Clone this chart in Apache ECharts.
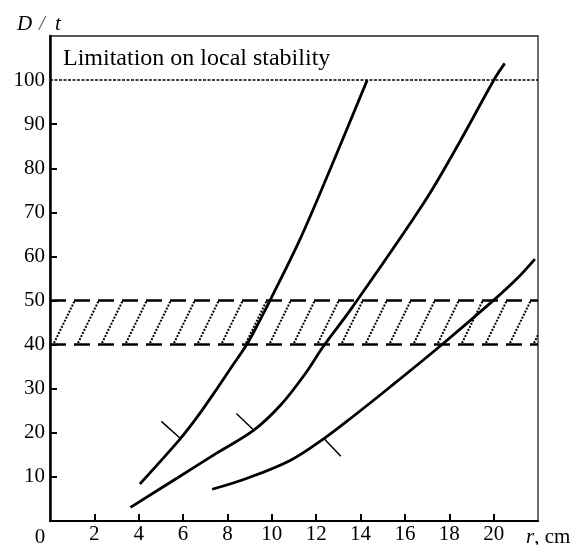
<!DOCTYPE html>
<html>
<head>
<meta charset="utf-8">
<script src="https://cdn.jsdelivr.net/npm/echarts@6/dist/echarts.min.js"></script>
<style>
  html, body { margin: 0; padding: 0; background: #fff; }
  #chart { width: 579px; height: 545px; }
</style>
</head>
<body>
<div id="chart"></div>
<script>
// Allowed wall ratio D/t versus radius r (cm)
const curveA = [[4.05, 8.4], [5.88, 18.7], [6.64, 23.6], [7.39, 29.0], [8.14, 34.6], [8.89, 40.2], [9.49, 45.8], [9.95, 50.3], [11.3, 64.2], [12.65, 80], [14.3, 100]];
const curveB = [[3.63, 3.1], [5.88, 10.2], [7.39, 15.0], [9.19, 20.6], [10.4, 26.3], [11.45, 33.0], [12.35, 39.8], [13.56, 48.0], [16.87, 72.3], [18.45, 85.8], [20.03, 100.2], [20.5, 103.8]];
const curveC = [[7.31, 7.2], [8.89, 9.7], [10.85, 13.8], [12.35, 18.7], [13.56, 23.3], [15.36, 30.5], [17.62, 39.8], [20.03, 50.2], [21.08, 55.1], [21.86, 59.4]];

// Short marker strokes attached to each curve
const markA = [[5.88, 18.7], [5.02, 22.6]];
const markB = [[9.19, 20.6], [8.40, 24.4]];
const markC = [[12.35, 18.7], [13.11, 14.7]];

// Limits
const stabilityLimit = 100;
const bandLow = 40;
const bandHigh = 50;

// Axis ticks and labels
const xTicks = [2, 4, 6, 8, 10, 12, 14, 16, 18, 20];
const yTicks = [10, 20, 30, 40, 50, 60, 70, 80, 90];
const yLabels = [10, 20, 30, 40, 50, 60, 70, 80, 90, 100];

const titleText = 'Limitation on local stability';

const SERIF = '"Liberation Serif", "Times New Roman", serif';

// Dotted diagonal hatch tile for the 40–50 band
function hatchTile() {
  const w = 24, h = 49;
  const c = document.createElement('canvas');
  c.width = w; c.height = h;
  const ctx = c.getContext('2d');
  ctx.strokeStyle = '#000';
  ctx.lineWidth = 2;
  ctx.setLineDash([2, 1.4]);
  for (let k = -1; k <= 1; k++) {
    const x0 = k * w + 6;
    ctx.beginPath();
    ctx.moveTo(x0, h);
    ctx.lineTo(x0 + w, 0);
    ctx.stroke();
  }
  return c;
}

const chart = echarts.init(document.getElementById('chart'), null, { renderer: 'canvas' });

function curve(data) {
  return {
    type: 'line', data: data, smooth: 0.35, symbol: 'none', z: 4,
    lineStyle: { color: '#000', width: 2.8 }, silent: true
  };
}
function marker(data) {
  return {
    type: 'line', data: data, symbol: 'none', z: 4,
    lineStyle: { color: '#000', width: 1.5 }, silent: true
  };
}

chart.setOption({
  animation: false,
  backgroundColor: '#fff',
  grid: {
    left: 50, right: 41, top: 36, bottom: 22,
    show: true, borderColor: '#222', borderWidth: 1.3, backgroundColor: 'transparent'
  },
  xAxis: {
    type: 'value', min: 0, max: 22, interval: 2,
    axisLine: { show: true, onZero: false, lineStyle: { color: '#000', width: 2.2 } },
    axisTick: { show: true, inside: true, length: 7, customValues: xTicks, lineStyle: { color: '#000', width: 2 } },
    axisLabel: {
      show: true, customValues: xTicks, margin: 3,
      color: '#000', fontFamily: SERIF, fontSize: 21
    },
    splitLine: { show: false }
  },
  yAxis: {
    type: 'value', min: 0, max: 110, interval: 10,
    axisLine: { show: true, onZero: false, lineStyle: { color: '#000', width: 2.5 } },
    axisTick: { show: true, inside: true, length: 7, customValues: yTicks, lineStyle: { color: '#000', width: 2 } },
    axisLabel: {
      show: true, customValues: yLabels, margin: 5,
      color: '#000', fontFamily: SERIF, fontSize: 21
    },
    splitLine: { show: false }
  },
  graphic: [
    { type: 'text', left: 63, top: 47, z: 10,
      style: { text: titleText, fill: '#000', font: '24px ' + SERIF } },
    { type: 'text', x: 40, y: 537, z: 10,
      style: { text: '0', fill: '#000', font: '21px ' + SERIF, align: 'center', verticalAlign: 'middle' } },
    { type: 'text', x: 17, y: 24, z: 10,
      style: { text: 'D', fill: '#000', font: 'italic 21px ' + SERIF, verticalAlign: 'middle' } },
    { type: 'text', x: 39, y: 24, z: 10,
      style: { text: '/', fill: '#555', font: 'italic 21px ' + SERIF, verticalAlign: 'middle' } },
    { type: 'text', x: 55, y: 24, z: 10,
      style: { text: 't', fill: '#000', font: 'italic 21px ' + SERIF, verticalAlign: 'middle' } },
    { type: 'text', x: 526, y: 537, z: 10,
      style: {
        text: '{i|r}, cm', fill: '#000', font: '21px ' + SERIF, verticalAlign: 'middle',
        rich: { i: { fontStyle: 'italic', fontFamily: SERIF, fontSize: 21, fill: '#000' } }
      } }
  ],
  series: [
    {
      type: 'line', data: [], z: 1, silent: true,
      markArea: {
        silent: true,
        itemStyle: { color: { image: hatchTile(), repeat: 'repeat' } },
        data: [[{ yAxis: bandLow }, { yAxis: bandHigh }]]
      },
      markLine: {
        silent: true, symbol: 'none', label: { show: false },
        data: [
          { yAxis: stabilityLimit, lineStyle: { color: '#000', width: 1.5, type: [3, 1.5] } },
          { yAxis: bandHigh, lineStyle: { color: '#000', width: 2.6, type: [16, 8] } },
          { yAxis: bandLow, lineStyle: { color: '#000', width: 2.6, type: [16, 8] } }
        ]
      }
    },
    curve(curveA),
    curve(curveB),
    curve(curveC),
    marker(markA),
    marker(markB),
    marker(markC)
  ]
});
</script>
</body>
</html>
